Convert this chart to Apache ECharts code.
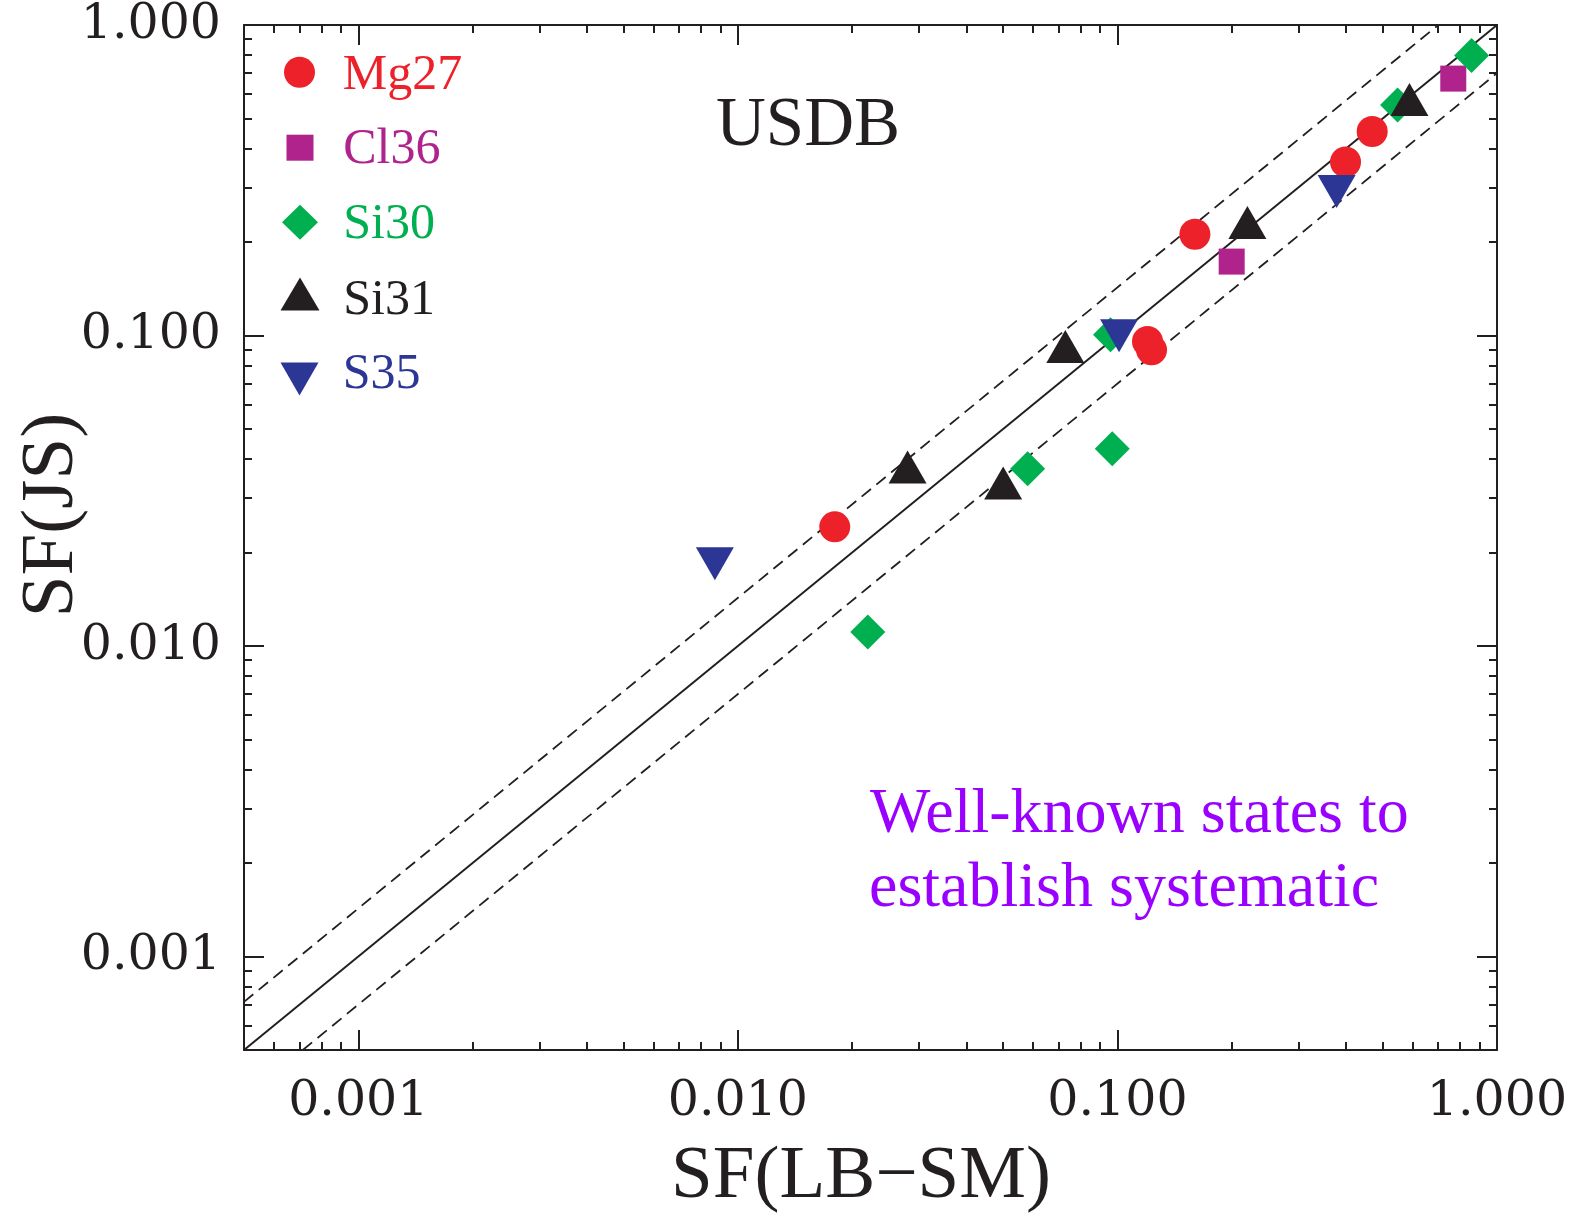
<!DOCTYPE html>
<html>
<head>
<meta charset="utf-8">
<title>SF(JS) vs SF(LB-SM)</title>
<script src="https://cdn.jsdelivr.net/npm/echarts@6/dist/echarts.min.js"></script>
<style>
  html, body { margin: 0; padding: 0; background: #ffffff; }
  #chart { width: 1577px; height: 1219px; }
</style>
</head>
<body>
<div id="chart"></div>
<script>
// Spectroscopic factors: SF(LB-SM) on the x axis, SF(JS) on the y axis
const mg27X = [0.0180, 0.160, 0.120, 0.123, 0.399, 0.469];
const mg27Y = [0.0242, 0.212, 0.0957, 0.0899, 0.362, 0.454];

const cl36X = [0.200, 0.767];
const cl36Y = [0.173, 0.672];

const si30X = [0.0220, 0.0580, 0.0969, 0.0959, 0.547, 0.857];
const si30Y = [0.0111, 0.0372, 0.0432, 0.1005, 0.553, 0.798];

const si31X = [0.0280, 0.0500, 0.0729, 0.220, 0.588];
const si31Y = [0.0377, 0.0335, 0.0922, 0.231, 0.576];

const s35X = [0.0087, 0.101, 0.378];
const s35Y = [0.0184, 0.0998, 0.291];

// Axis range and decade ticks (shared by both axes)
const AX_MIN = 0.0005;
const AX_MAX = 1;
const majorTicks = [0.001, 0.01, 0.1, 1];
const tickLabels = ['0.001', '0.010', '0.100', '1.000'];

// Band around the y = x line: y = x / 0.7 and y = 0.7 x
const bandFactor = 0.7;

const INK = '#231F20';

// Minor ticks at 2..9 within each decade
const minorTicks = [];
[0.0001, 0.001, 0.01, 0.1].forEach(function (d) {
  for (let k = 2; k <= 9; k++) {
    const v = +(k * d).toPrecision(6);
    if (v > AX_MIN && v < AX_MAX) minorTicks.push(v);
  }
});

function zip(xs, ys) { return xs.map(function (x, i) { return [x, ys[i]]; }); }

function tickLabel(v) {
  const i = majorTicks.findIndex(function (t) { return Math.abs(Math.log10(t) - Math.log10(v)) < 1e-6; });
  return i >= 0 ? tickLabels[i] : '';
}

function baseLogAxis(extra) {
  return Object.assign({
    type: 'log',
    logBase: 10,
    min: AX_MIN,
    max: AX_MAX,
    gridIndex: 0,
    silent: true,
    splitLine: { show: false },
    axisLine: { show: false },
    axisTick: { show: false },
    axisLabel: { show: false },
    axisPointer: { show: false }
  }, extra);
}

function majorTickStyle() {
  return { show: true, inside: true, length: 20, customValues: majorTicks, lineStyle: { color: INK, width: 2 } };
}
function minorTickStyle() {
  return { show: true, inside: true, length: 8, customValues: minorTicks, lineStyle: { color: INK, width: 2 } };
}
const frameLine = { show: true, onZero: false, lineStyle: { color: INK, width: 2 } };

const tickFont = { fontFamily: 'DejaVu Serif', fontSize: 49, color: INK };
const titleFont = { fontFamily: 'Liberation Serif', fontSize: 75, color: INK };

const xAxes = [
  baseLogAxis({
    position: 'bottom',
    axisLine: frameLine,
    axisTick: majorTickStyle(),
    axisLabel: Object.assign({ show: true, margin: 28, customValues: majorTicks, formatter: tickLabel }, tickFont),
    name: 'SF(LB\u2212SM)',
    nameLocation: 'middle',
    nameGap: 90,
    nameMoveOverlap: false,
    nameTextStyle: Object.assign({ padding: [0, 19, 0, 0] }, titleFont)
  }),
  baseLogAxis({ position: 'bottom', axisTick: minorTickStyle() }),
  baseLogAxis({ position: 'top', axisLine: frameLine, axisTick: majorTickStyle() }),
  baseLogAxis({ position: 'top', axisTick: minorTickStyle() })
];

const yAxes = [
  baseLogAxis({
    position: 'left',
    axisLine: frameLine,
    axisTick: majorTickStyle(),
    axisLabel: Object.assign({ show: true, margin: 23, customValues: majorTicks, formatter: tickLabel }, tickFont),
    name: 'SF(JS)',
    nameLocation: 'middle',
    nameRotate: 90,
    nameGap: 154,
    nameMoveOverlap: false,
    nameTextStyle: Object.assign({ padding: [0, 0, 0, 45] }, titleFont)
  }),
  baseLogAxis({ position: 'left', axisTick: minorTickStyle() }),
  baseLogAxis({ position: 'right', axisLine: frameLine, axisTick: majorTickStyle() }),
  baseLogAxis({ position: 'right', axisTick: minorTickStyle() })
];

// Marker definitions per nucleus; textShift nudges each legend label vertically
const groups = [
  { name: 'Mg27', xs: mg27X, ys: mg27Y, color: '#ED2129', symbol: 'circle',   size: [31, 31], rotate: 0,   icon: 'circle',   iconY: 72.3,  textShift: 3.1 },
  { name: 'Cl36', xs: cl36X, ys: cl36Y, color: '#B0228C', symbol: 'rect',     size: [26, 26], rotate: 0,   icon: 'rect',     iconY: 147.7, textShift: 2.2 },
  { name: 'Si30', xs: si30X, ys: si30Y, color: '#00AF4F', symbol: 'diamond',  size: [35, 35], rotate: 0,   icon: 'diamond',  iconY: 222.3, textShift: 3.0 },
  { name: 'Si31', xs: si31X, ys: si31Y, color: INK,       symbol: 'triangle', size: [38, 33], rotate: 0,   icon: 'triangle', iconY: 294,   textShift: 6.7 },
  { name: 'S35',  xs: s35X,  ys: s35Y,  color: '#2C3694', symbol: 'triangle', size: [38, 33], rotate: 180, icon: 'path://M0,0L38,0L19,33Z', iconY: 379, textShift: -4.1 }
];

const LEGEND_ICON_X = 300;
const LEGEND_TEXT_X = 343;
const LEGEND_FONT = 50;

const scatterSeries = groups.map(function (g, i) {
  return {
    type: 'scatter',
    name: g.name,
    xAxisIndex: 0,
    yAxisIndex: 0,
    data: zip(g.xs, g.ys),
    symbol: g.symbol,
    symbolSize: g.size,
    symbolRotate: g.rotate,
    itemStyle: { color: g.color, opacity: 1 },
    emphasis: { disabled: true },
    z: 10 + i,
    silent: true
  };
});

const legends = groups.map(function (g) {
  const w = g.size[0] + 1, h = g.size[1];
  // a thin spacer token sets the line box; the label sits at its top or bottom
  const boxH = 2 * (LEGEND_FONT / 2 + Math.abs(g.textShift));
  return {
    data: [{ name: g.name, icon: g.icon }],
    left: LEGEND_ICON_X - w / 2,
    top: g.iconY - Math.max(boxH, h) / 2,
    padding: 0,
    itemWidth: w,
    itemHeight: h,
    selectedMode: false,
    formatter: '{s| }{t|{name}}',
    textStyle: {
      color: g.color,
      fontFamily: 'Liberation Serif',
      fontSize: LEGEND_FONT,
      padding: [0, 0, 0, LEGEND_TEXT_X - (LEGEND_ICON_X + w / 2 + 5)],
      rich: {
        s: { fontSize: 1, height: boxH, lineHeight: boxH },
        t: {
          color: g.color,
          fontFamily: 'Liberation Serif',
          fontSize: LEGEND_FONT,
          lineHeight: LEGEND_FONT,
          verticalAlign: g.textShift >= 0 ? 'bottom' : 'top'
        }
      }
    }
  };
});

function refLine(name, pts, type, width) {
  return {
    type: 'line',
    name: name,
    xAxisIndex: 0,
    yAxisIndex: 0,
    data: pts,
    showSymbol: false,
    symbol: 'none',
    silent: true,
    clip: true,
    z: 2,
    lineStyle: { color: INK, width: width, type: type },
    emphasis: { disabled: true }
  };
}

const lineSeries = [
  refLine('y = x', [[AX_MIN, AX_MIN], [AX_MAX, AX_MAX]], 'solid', 2),
  refLine('y = x / 0.7', [[AX_MIN, AX_MIN / bandFactor], [AX_MAX * bandFactor, AX_MAX]], [12, 7], 1.8),
  refLine('y = 0.7 x', [[AX_MIN / bandFactor, AX_MIN], [AX_MAX, AX_MAX * bandFactor]], [12, 7], 1.8)
];

const chart = echarts.init(document.getElementById('chart'), null, { renderer: 'canvas' });
chart.setOption({
  animation: false,
  backgroundColor: '#ffffff',
  grid: { left: 244, top: 25, width: 1253, height: 1025, containLabel: false, outerBoundsMode: 'none' },
  xAxis: xAxes,
  yAxis: yAxes,
  legend: legends,
  tooltip: { show: false },
  graphic: [
    {
      type: 'text', x: 716, y: 126.5, silent: true,
      style: { text: 'USDB', fill: INK, fontFamily: 'Liberation Serif', fontSize: 69, align: 'left', verticalAlign: 'middle' }
    },
    {
      type: 'text', x: 870, y: 815, silent: true,
      style: { text: 'Well-known states to', fill: '#9900FF', fontFamily: 'Liberation Serif', fontSize: 64, align: 'left', verticalAlign: 'middle' }
    },
    {
      type: 'text', x: 869, y: 889.5, silent: true,
      style: { text: 'establish systematic', fill: '#9900FF', fontFamily: 'Liberation Serif', fontSize: 64, align: 'left', verticalAlign: 'middle' }
    }
  ],
  series: lineSeries.concat(scatterSeries)
});
</script>
</body>
</html>
